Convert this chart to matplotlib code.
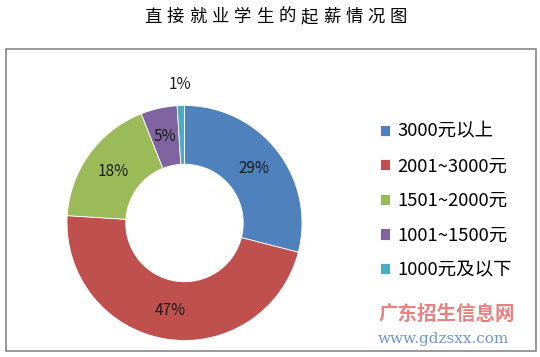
import numpy as np
import matplotlib
matplotlib.use('Agg')
import matplotlib.pyplot as plt
from matplotlib.patches import Rectangle

plt.rcParams['font.family'] = ['Noto Sans CJK SC', 'DejaVu Sans']

# data
labels = ['3000元以上', '2001~3000元', '1501~2000元', '1001~1500元', '1000元及以下']
values = [29, 47, 18, 5, 1]
colors = ['#4F81BD', '#C0504D', '#9BBB59', '#8064A2', '#4BACC6']
title = '直接就业学生的起薪情况图'

W, H = 540, 357
fig = plt.figure(figsize=(W / 100, H / 100), dpi=100)

# outer frame of the chart area
fig.patches.append(Rectangle((5.5 / W, 1 - 351 / H), 530 / W, (351 - 48.5) / H,
                             transform=fig.transFigure, fill=False,
                             edgecolor='#868686', linewidth=1.2))

# donut
cx, cy, r = 184.5, 223, 117.5
ax = fig.add_axes([(cx - r) / W, 1 - (cy + r) / H, 2 * r / W, 2 * r / H])
wedges, texts, autotexts = ax.pie(values, colors=colors, startangle=90, counterclock=False,
                                  autopct='%1.0f%%', pctdistance=0.75,
                                  wedgeprops=dict(width=0.5, edgecolor='white', linewidth=0.6),
                                  textprops=dict(fontsize=11, color='#1a1a1a'))
ax.set_xlim(-1, 1)
ax.set_ylim(-1, 1)
ax.set_aspect('equal')
ax.axis('off')

# smallest slice label sits outside the ring
w = wedges[-1]
mid = np.deg2rad((w.theta1 + w.theta2) / 2)
autotexts[-1].set_position((1.18 * np.cos(mid), 1.18 * np.sin(mid)))

# title with wide letter spacing, one character at a time
pitch = 22.3
x0 = 276 - pitch * (len(title) - 1) / 2
for i, ch in enumerate(title):
    fig.text((x0 + i * pitch) / W, 1 - 17 / H, ch, ha='center', va='center',
             fontsize=12.5, color='black', fontweight='medium')

# legend
fig.legend(wedges, labels, loc='upper left', bbox_to_anchor=(363 / W, 1 - 106 / H),
           frameon=False, fontsize=13.3, handlelength=0.55, handleheight=0.55,
           handletextpad=0.4, labelspacing=0.9)

# watermark
fig.text(378 / W, 1 - 314 / H, '广东招生信息网', fontsize=14, color='#E86A6A',
         fontweight='bold', va='center', alpha=0.85)
fig.text(378 / W, 1 - 339 / H, 'www.gdzsxx.com', fontsize=11, color='#5B7FCF',
         family='DejaVu Serif', va='center', alpha=0.85)

fig.savefig('out.png', dpi=100)
